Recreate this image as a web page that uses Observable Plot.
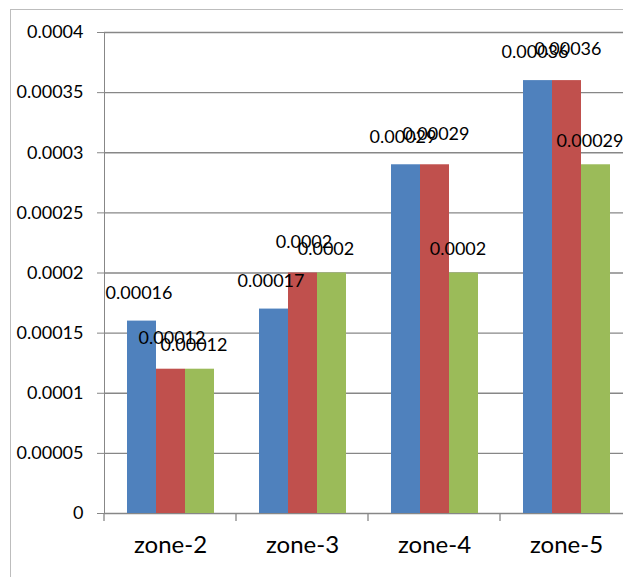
<!DOCTYPE html>
<html>
<head>
<meta charset="utf-8">
<script src="https://cdn.jsdelivr.net/npm/d3@7"></script>
<script src="https://cdn.jsdelivr.net/npm/@observablehq/plot@0.6"></script>
<style>
  html, body { margin: 0; padding: 0; background: #fff; overflow: hidden; }
  #wrap { position: relative; width: 623px; height: 577px; overflow: hidden; }
  #border { position: absolute; left: 10px; top: 9px; width: 700px; height: 700px;
            border: 1px solid #bdbdbd; box-sizing: border-box; }
  #chart { position: absolute; left: 0; top: 0; width: 640px; }
  #chart svg { max-width: none !important; }
  #chart svg [aria-label^="y-axis"] text { font-size: 18px; fill: #000; }
  #chart svg [aria-label^="fx-axis"] text { font-size: 24px; fill: #000; }
</style>
</head>
<body>
<div id="wrap"><div id="border"></div><div id="chart"></div></div>
<script>
// Categories, series and values
const zones = ["zone-2", "zone-3", "zone-4", "zone-5"];
const seriesNames = ["Series1", "Series2", "Series3"];
const series1 = [0.00016, 0.00017, 0.00029, 0.00036];
const series2 = [0.00012, 0.0002, 0.00029, 0.00036];
const series3 = [0.00012, 0.0002, 0.0002, 0.00029];
const yTicks = [0, 0.00005, 0.0001, 0.00015, 0.0002, 0.00025, 0.0003, 0.00035, 0.0004];
const colors = ["#4F81BD", "#C0504D", "#9BBB59"];

// Long-format table built from the arrays above
const allSeries = [series1, series2, series3];
const rows = [];
zones.forEach((zone, i) => {
  seriesNames.forEach((s, j) => rows.push({zone, series: s, value: allSeries[j][i]}));
});

// Offsets of each series' value labels relative to the bar top
const labelDy = {Series1: -28, Series2: -31, Series3: -24};
const labelDx = {Series1: -3, Series2: 1, Series3: -6};

const font = "Lato, 'Open Sans', sans-serif";
const gridColor = "#878787";

const chart = Plot.plot({
  width: 640,
  height: 577,
  marginLeft: 104,
  marginRight: 8,
  marginTop: 32,
  marginBottom: 64,
  style: {fontFamily: font, color: gridColor, background: "transparent", overflow: "visible", maxWidth: "none"},
  fx: {domain: zones, padding: 0, label: null, tickSize: 0, tickPadding: 22},
  x: {domain: seriesNames, paddingInner: 0, paddingOuter: 0.7, axis: null},
  y: {domain: [0, 0.0004], ticks: yTicks, tickFormat: d => String(d),
      tickSize: 7, tickPadding: 14, label: null, line: true},
  color: {domain: seriesNames, range: colors},
  marks: [
    Plot.ruleY(yTicks, {stroke: gridColor, strokeWidth: 1.3}),
    Plot.barY(rows, {fx: "zone", x: "series", y: "value", fill: "series"}),
    ...seriesNames.map(s =>
      Plot.text(rows.filter(d => d.series === s), {
        fx: "zone", x: "series", y: "value", text: d => String(d.value),
        dx: labelDx[s], dy: labelDy[s], lineAnchor: "middle", textAnchor: "middle",
        fill: "#000", fontSize: 18, fontFamily: font
      })
    )
  ]
});

document.getElementById("chart").appendChild(chart);

// Category boundary tick marks below the baseline, placed with the fx scale
const fx = chart.scale("fx");
const y = chart.scale("y");
const y0 = y.apply(0);
const bounds = zones.map(z => fx.apply(z)).concat([fx.apply(zones[zones.length - 1]) + fx.bandwidth]);
d3.select(chart).append("g")
  .attr("stroke", gridColor)
  .attr("stroke-width", 1.3)
  .selectAll("line")
  .data(bounds)
  .join("line")
  .attr("x1", d => d).attr("x2", d => d)
  .attr("y1", y0).attr("y2", y0 + 8);
</script>
</body>
</html>
